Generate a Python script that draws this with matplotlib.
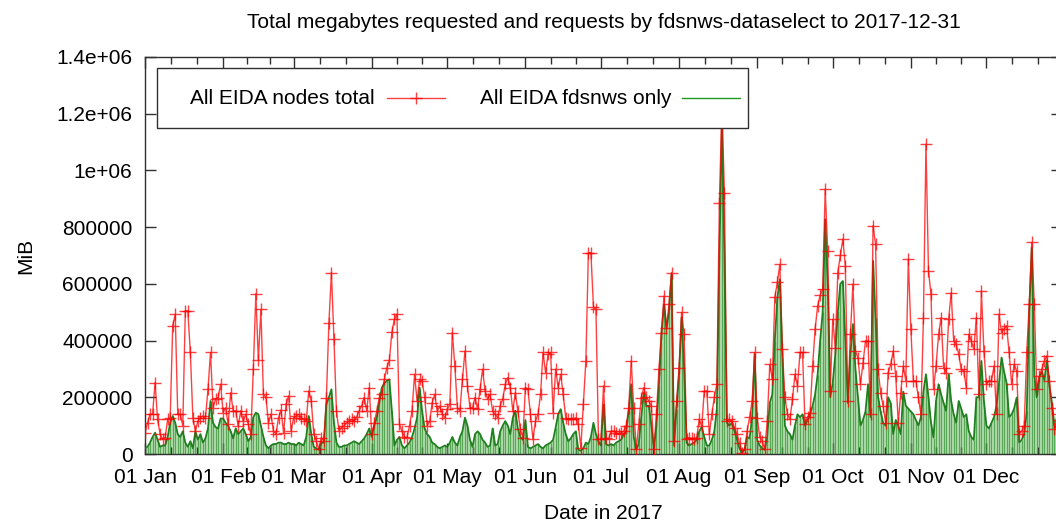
import numpy as np
import matplotlib
matplotlib.use("Agg")
import matplotlib.pyplot as plt
from matplotlib.lines import Line2D
from matplotlib.patches import Rectangle

plt.rcParams['font.family'] = ['Liberation Sans', 'DejaVu Sans']

# ===============================
# Data (daily values in thousands of MiB, 2017)
# ===============================

month_names = ["Jan", "Feb", "Mar", "Apr", "May", "Jun",
               "Jul", "Aug", "Sep", "Oct", "Nov", "Dec"]
month_days = [31, 28, 31, 30, 31, 30, 31, 31, 30, 31, 30, 31]

# All EIDA nodes total, one list per month
total_jan = [75, 110, 140, 140, 252, 122, 70, 52, 58, 122, 128, 452, 493, 140, 140, 100,
             505, 505, 358, 128, 81, 116, 128, 134, 128, 228, 358, 163, 193, 199, 246]
total_feb = [146, 163, 105, 216, 152, 152, 99, 152, 116, 140, 105, 70, 300, 565,
             330, 510, 210, 200, 110, 140, 80, 70, 128, 155, 75, 175, 205, 81]
total_mar = [128, 134, 140, 128, 122, 116, 222, 187, 70, 46, 16, 58, 46, 199, 463, 640,
             405, 152, 81, 93, 99, 110, 116, 122, 116, 130, 152, 170, 199, 152, 234]
total_apr = [70, 110, 152, 199, 210, 263, 305, 330, 430, 475, 493, 105, 80, 60, 58,
             100, 152, 281, 187, 263, 258, 200, 99, 116, 181, 210, 152, 169, 140, 128]
total_may = [158, 175, 428, 310, 163, 152, 263, 363, 240, 163, 163, 199, 158, 230, 299, 222,
             193, 210, 150, 140, 128, 170, 193, 246, 269, 234, 152, 216, 150, 87, 58]
total_jun = [234, 228, 140, 52, 116, 140, 210, 358, 287, 351, 358, 146, 299, 234, 281,
             210, 128, 122, 122, 122, 128, 105, 22, 175, 328, 710, 710, 520, 510, 52]
total_jul = [52, 240, 58, 52, 80, 81, 75, 70, 75, 80, 99, 163, 328, 163, 16, 105,
             199, 234, 200, 187, 169, 16, 140, 299, 428, 557, 446, 528, 640, 46, 187]
total_aug = [305, 499, 422, 52, 58, 55, 52, 58, 122, 99, 222, 222, 70, 140, 200, 246,
             886, 1227, 922, 116, 122, 116, 93, 70, 40, 5, 16, 81, 130, 187, 358]
total_sep = [128, 60, 46, 16, 116, 316, 263, 552, 605, 669, 369, 200, 140, 122, 193,
             281, 240, 358, 358, 105, 130, 146, 310, 440, 522, 560, 581, 934, 716, 222]
total_oct = [475, 375, 640, 700, 758, 663, 187, 422, 599, 363, 340, 246, 320, 399, 399, 140,
             805, 740, 300, 216, 169, 110, 287, 316, 363, 275, 110, 216, 310, 258, 687]
total_nov = [440, 258, 258, 200, 140, 481, 1093, 646, 563, 228, 310, 422, 481, 305, 287,
             475, 569, 399, 387, 352, 299, 293, 234, 422, 399, 369, 481, 210, 575, 363]
total_dec = [246, 258, 258, 310, 140, 493, 428, 440, 452, 358, 246, 316, 293, 70, 81, 99,
             358, 528, 746, 528, 228, 275, 300, 328, 346, 258, 163, 87, 140, 120, 100]

# All EIDA fdsnws only, one list per month
fdsn_jan = [20, 25, 40, 60, 75, 50, 25, 30, 30, 60, 110, 134, 110, 70, 60, 80,
            40, 25, 45, 20, 80, 50, 70, 40, 55, 90, 187, 110, 95, 90, 125]
fdsn_feb = [125, 110, 100, 80, 55, 90, 70, 80, 90, 70, 45, 60, 130, 146,
            140, 100, 60, 30, 20, 30, 35, 35, 40, 40, 35, 35, 40, 35]
fdsn_mar = [35, 30, 40, 35, 30, 60, 134, 70, 25, 20, 15, 40, 40, 175, 200, 228,
            110, 40, 25, 25, 30, 30, 35, 40, 45, 40, 35, 45, 55, 70, 90]
fdsn_apr = [60, 100, 128, 180, 234, 250, 258, 263, 150, 30, 50, 60, 30, 20, 30,
            40, 60, 90, 128, 234, 150, 90, 70, 60, 40, 35, 25, 20, 25, 30]
fdsn_may = [25, 40, 60, 40, 30, 60, 80, 128, 100, 50, 25, 70, 80, 70, 50, 40,
            25, 30, 90, 30, 35, 80, 100, 116, 100, 70, 128, 152, 90, 60, 50]
fdsn_jun = [120, 25, 20, 25, 30, 35, 25, 20, 30, 35, 40, 50, 93, 140, 158,
            110, 70, 45, 55, 70, 80, 15, 12, 20, 40, 35, 60, 110, 70, 45]
fdsn_jul = [30, 175, 35, 30, 35, 30, 40, 45, 50, 70, 80, 150, 246, 60, 15, 35,
            130, 216, 170, 170, 100, 15, 100, 240, 420, 528, 440, 500, 634, 30, 160]
fdsn_aug = [280, 481, 300, 40, 30, 35, 40, 50, 80, 95, 60, 30, 30, 50, 80, 160,
            700, 1160, 700, 110, 100, 110, 80, 50, 20, 5, 15, 60, 55, 130, 352]
fdsn_sep = [50, 30, 20, 15, 60, 180, 210, 400, 550, 616, 350, 100, 80, 70, 50,
            100, 140, 130, 140, 100, 120, 140, 170, 210, 280, 400, 500, 828, 600, 200]
fdsn_oct = [250, 350, 500, 600, 610, 400, 180, 350, 458, 300, 200, 100, 120, 150, 246, 130,
            681, 480, 200, 150, 110, 100, 200, 180, 70, 120, 100, 70, 220, 170, 160]
fdsn_nov = [150, 140, 120, 100, 130, 220, 281, 200, 110, 58, 187, 246, 210, 180, 152,
            281, 187, 140, 110, 187, 160, 130, 140, 80, 60, 50, 200, 200, 328, 187]
fdsn_dec = [100, 90, 110, 130, 170, 250, 340, 290, 250, 130, 140, 160, 199, 40, 50, 70,
            150, 500, 728, 280, 199, 270, 290, 260, 330, 240, 180, 100, 90, 80, 70]

y_ticks = [0, 200000, 400000, 600000, 800000, 1000000, 1200000, 1400000]
y_tick_labels = ["0", "200000", "400000", "600000", "800000", "1e+06", "1.2e+06", "1.4e+06"]

# ===============================
# Assemble
# ===============================

KILO = 1000.0
total = np.array(total_jan + total_feb + total_mar + total_apr + total_may + total_jun +
                 total_jul + total_aug + total_sep + total_oct + total_nov + total_dec) * KILO
fdsn = np.array(fdsn_jan + fdsn_feb + fdsn_mar + fdsn_apr + fdsn_may + fdsn_jun +
                fdsn_jul + fdsn_aug + fdsn_sep + fdsn_oct + fdsn_nov + fdsn_dec) * KILO
days = np.arange(len(total))

month_start = np.concatenate([[0], np.cumsum(month_days)[:-1]])
minor_ticks = []
for s, n in zip(month_start, month_days):
    minor_ticks += [s + n / 3.0, s + 2 * n / 3.0]

# ===============================
# Plot
# ===============================

FS = 15
W, H = 1056, 526
fig = plt.figure(figsize=(W / 100, H / 100), dpi=100)
# plot box runs slightly past the right edge of the picture, as in the original
left, right, top, bottom = 145, 1062, 57, 454
ax = fig.add_axes([left / W, 1 - bottom / H, (right - left) / W, (bottom - top) / H])

# fdsnws only: light fill + impulses + outline
ax.fill_between(days, 0, fdsn, color="#b8dfb3", lw=0, zorder=1)
ax.vlines(days, 0, fdsn, color="#3f9a3f", lw=0.9, alpha=0.8, zorder=2)
ax.plot(days, fdsn, color="#1f7f1f", lw=1.3, zorder=3)

# total: red line with + markers
ax.plot(days, total, color="#ff0000", lw=1.0, alpha=0.75, marker="+",
        markersize=9, markeredgewidth=1.0, zorder=4)

ax.set_xlim(0, 364)
ax.set_ylim(0, 1400000)

ax.set_xticks(month_start)
ax.set_xticklabels(["01 " + m for m in month_names])
ax.set_xticks(minor_ticks, minor=True)
ax.set_yticks(y_ticks)
ax.set_yticklabels(y_tick_labels)

ax.tick_params(which="both", direction="in", top=True, right=True, width=1, color="#303030")
ax.tick_params(which="major", length=8, labelsize=FS)
ax.tick_params(which="minor", length=5)
ax.tick_params(axis="y", pad=9)
ax.tick_params(axis="x", pad=10)
for sp in ax.spines.values():
    sp.set_linewidth(1.0)
    sp.set_color("#303030")

ax.set_title("Total megabytes requested and requests by fdsnws-dataselect to 2017-12-31",
             fontsize=FS, pad=21)
ax.set_xlabel("Date in 2017", fontsize=FS, labelpad=12)
ax.set_ylabel("MiB", fontsize=FS, labelpad=15)

# ===============================
# Legend box (gnuplot style: text, then sample)
# ===============================

def fx(px):
    return px / W

def fy(py):
    return 1 - py / H

fig.patches.append(Rectangle((fx(157), fy(128)), fx(748) - fx(157), fy(68) - fy(128),
                             transform=fig.transFigure, fill=True, facecolor="white",
                             edgecolor="#303030", lw=1.0, zorder=5))
fig.text(fx(375), fy(99), "All EIDA nodes total", ha="right", va="center",
         fontsize=FS, zorder=6)
fig.lines.append(Line2D([fx(387), fx(445)], [fy(98), fy(98)], color="#ff0000", lw=1.0,
                        alpha=0.75, transform=fig.transFigure, zorder=6))
fig.lines.append(Line2D([fx(416)], [fy(98)], color="#ff0000", marker="+", markersize=9,
                        markeredgewidth=1.0, alpha=0.75, transform=fig.transFigure, zorder=6))
fig.text(fx(672), fy(99), "All EIDA fdsnws only", ha="right", va="center",
         fontsize=FS, zorder=6)
fig.lines.append(Line2D([fx(682), fx(740)], [fy(98), fy(98)], color="#1f9a1f", lw=1.0,
                        transform=fig.transFigure, zorder=6))

fig.savefig("out.png", dpi=100)
